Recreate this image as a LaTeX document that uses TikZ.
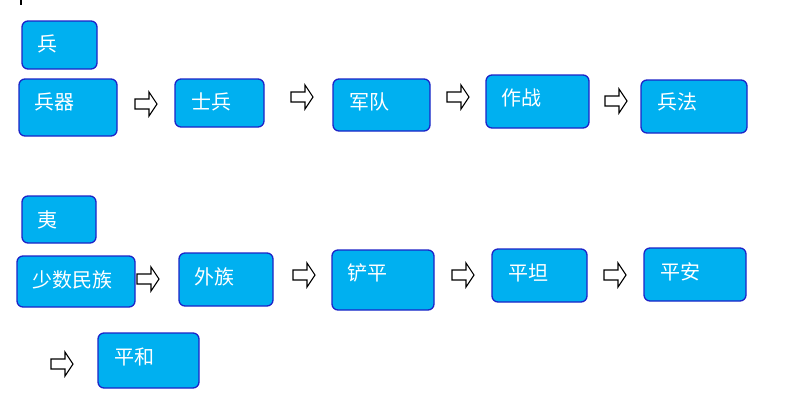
\documentclass[tikz,border=0pt]{standalone}
\usepackage{fontspec}
\newfontfamily\cjk{Noto Sans CJK SC}
\definecolor{boxfill}{RGB}{0,176,240}
\definecolor{boxline}{RGB}{28,36,200}
\newcommand\mybox[8]{%
  \node[boxst, minimum width={(#4-#2)*1pt}, minimum height={(#5-#3)*1pt}] (#1) at ({(#2+#4)/2},{(#3+#5)/2}) {};
  \node[txt] (#1t) at (#6,#7) {#8};
}
\newcommand\hollowarr[2]{%
  \draw[arrst] (#1,#2-5) -- ++(14,0) -- ++(0,-7) -- ++(8,12) -- ++(-8,12) -- ++(0,-7) -- ++(-14,0) -- cycle;
}
\tikzset{
  boxst/.style={draw=boxline, fill=boxfill, line width=1.3pt, rounded corners=6pt, inner sep=0pt},
  txt/.style={anchor=west, text=white, font=\cjk\fontsize{20}{20}\selectfont, inner sep=0pt},
  arrst/.style={draw=black, fill=white, line width=1.1pt, line join=miter},
}
\begin{document}
\begin{tikzpicture}[x=1pt,y=-1pt]
\useasboundingbox (0,0) rectangle (791,408);
\fill[black] (20,0) rectangle (22,5);
% row 1
\mybox{b0}{22}{21}{97}{69}{37}{44}{兵}
\mybox{b1}{19}{79}{117}{136}{34}{102}{兵器}
\mybox{b2}{175}{79}{264}{127}{191}{102}{士兵}
\mybox{b3}{333}{79}{430}{131}{349}{102}{军队}
\mybox{b4}{486}{75}{589}{128}{501}{98}{作战}
\mybox{b5}{641}{80}{747}{133}{657}{102}{兵法}
\hollowarr{135}{104}
\hollowarr{291}{97}
\hollowarr{447}{97}
\hollowarr{605}{101}
% row 2
\mybox{c0}{22}{196}{96}{243}{37}{220}{夷}
\mybox{c1}{17}{256}{135}{307}{32}{280}{少数民族}
\mybox{c2}{179}{253}{273}{306}{194}{277}{外族}
\mybox{c3}{332}{250}{434}{310}{347}{273}{铲平}
\mybox{c4}{492}{249}{587}{302}{508}{273}{平坦}
\mybox{c5}{644}{248}{746}{301}{660}{272}{平安}
\hollowarr{137}{279}
\hollowarr{293}{275}
\hollowarr{452}{275}
\hollowarr{604}{275}
% row 3
\mybox{d1}{98}{333}{199}{388}{114}{357}{平和}
\hollowarr{51}{364}
\end{tikzpicture}
\end{document}
